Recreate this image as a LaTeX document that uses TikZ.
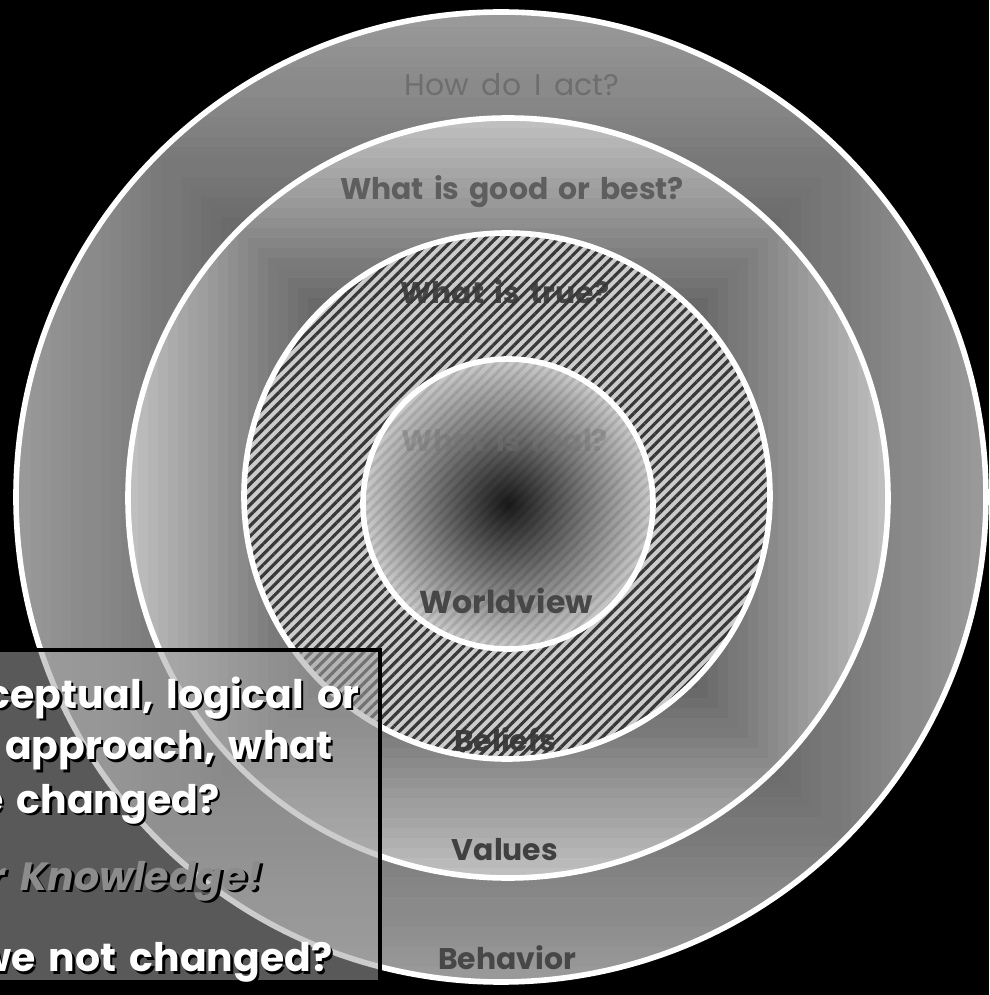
\documentclass[tikz,border=0pt]{standalone}
\usepackage{fontspec}
\setmainfont{Poppins}[WordSpace=1.6]
\usetikzlibrary{patterns.meta}
\tikzset{
    rim/.style={draw=white, line width=1.6pt},
    lbl/.style={font=\fontsize{8.5}{10}\selectfont\bfseries, inner sep=1pt},
    txt/.style={font=\fontsize{11.2}{13}\selectfont\bfseries, text=white, anchor=base east, inner sep=0pt},
    shd/.style={txt, text=black},
    hatch/.style={pattern={Lines[angle=45, distance=2.1pt, line width=0.9pt]}}
}

\begin{document}
\begin{tikzpicture}
    \fill[black] (0,0) rectangle (9.89,9.95);
    \useasboundingbox (0,0) rectangle (9.89,9.95);
    \coordinate (c1) at (5.01,4.98);
    \coordinate (c2) at (5.08,4.97);
    \coordinate (c3) at (5.07,4.99);
    \coordinate (c4) at (5.08,4.91);

    % behavior ring
    \begin{scope}
        \clip (c1) circle (4.85);
        \foreach \d in {49,48,...,1} {
            \pgfmathtruncatemacro\lev{100-(45+2.2*\d)/2.55}
            \fill[black!\lev, shift={(c1)}] (-\d/10,-\d/10) rectangle (\d/10,\d/10);
        }
    \end{scope}
    % values ring
    \begin{scope}
        \clip (c2) circle (3.80);
        \foreach \d in {39,38,...,1} {
            \pgfmathtruncatemacro\lev{100-(8+4.76*\d)/2.55}
            \fill[black!\lev, shift={(c2)}] (-\d/10,-\d/10) rectangle (\d/10,\d/10);
        }
    \end{scope}
    % beliefs ring
    \fill[black!20] (c3) circle (2.63);
    \node[lbl, text=black!72] (true) at (5.05,7.03) {What is true?};
    \node[lbl, text=black!75] (bel) at (5.05,2.55) {Beliefs};
    \fill[hatch, pattern color=black!78] (c3) circle (2.63);
    % worldview
    \shade[inner color=black!90, outer color=black!20] (c4) circle (1.45);
    \fill[hatch, pattern color=black, opacity=0.1] (c4) circle (1.45);

    \draw[rim] (c1) circle (4.85);
    \draw[rim] (c2) circle (3.80);
    \draw[rim] (c3) circle (2.63);
    \draw[rim] (c4) circle (1.45);

    \node[lbl, text=black!57, font=\fontsize{8.5}{10}\selectfont] (act) at (5.12,9.10) {How do I act?};
    \node[lbl, text=black!63] (good) at (5.12,8.03) {What is good or best?};
    \node[lbl, text=black!55, opacity=0.45] (real) at (5.05,5.55) {What is real?};
    \node[lbl, text=black!72, font=\fontsize{9}{11}\selectfont\bfseries] (wv) at (5.06,3.94) {Worldview};
    \node[lbl, text=black!75] (val) at (5.05,1.45) {Values};
    \node[lbl, text=black!72] (beh) at (5.07,0.37) {Behavior};

    % question box
    \fill[black!36, opacity=0.55] (-0.2,3.45) rectangle (3.80,0.13);
    \draw[line width=1.4pt] (-0.2,3.45) rectangle (3.80,0.13);
    \foreach \n/\x/\y/\t in {1/3.60/2.87/{ceptual, logical or}, 2/3.33/2.35/{approach, what},
                             3/2.20/1.82/{e changed?}, 5/3.33/0.23/{we not changed?}} {
        \node[shd] (t\n s) at (\x+0.025,\y-0.025) {\t};
        \node[txt] (t\n) at (\x,\y) {\t};
    }
    \node[shd, font=\fontsize{11.2}{13}\selectfont\bfseries\itshape] (t4s) at (2.655,1.025) {r Knowledge!};
    \node[txt, text=black!45, font=\fontsize{11.2}{13}\selectfont\bfseries\itshape] (t4) at (2.63,1.05) {r Knowledge!};
\end{tikzpicture}
\end{document}
